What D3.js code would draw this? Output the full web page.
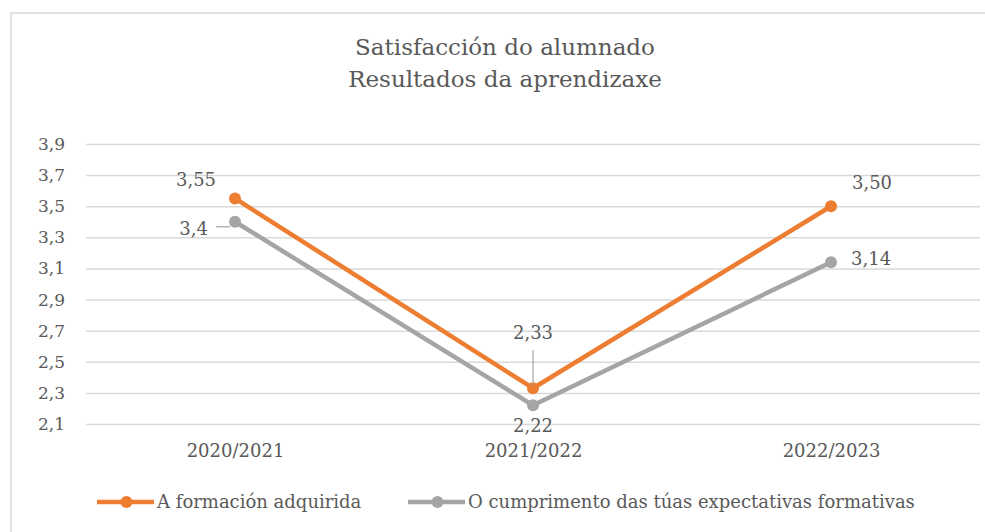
<!DOCTYPE html>
<html>
<head>
<meta charset="utf-8">
<script src="https://cdn.jsdelivr.net/npm/d3@7"></script>
<style>
  body { margin: 0; background: #fff; }
  svg text { font-family: "DejaVu Serif", "Liberation Serif", serif; fill: #595959; }
</style>
</head>
<body>
<svg width="985" height="532" font-family="DejaVu Serif"></svg>
<script>
const categories = ['2020/2021', '2021/2022', '2022/2023'];
const seriesNames = ['A formación adquirida', 'O cumprimento das túas expectativas formativas'];
const formacion = [3.55, 2.33, 3.50];
const expectativas = [3.40, 2.22, 3.14];
const labelTexts = [['3,55', '2,33', '3,50'], ['3,4', '2,22', '3,14']];
const yTicks = [2.1, 2.3, 2.5, 2.7, 2.9, 3.1, 3.3, 3.5, 3.7, 3.9];
const titleLines = ['Satisfacción do alumnado', 'Resultados da aprendizaxe'];

const colors = ['#ED7D31', '#A5A5A5'];
const series = [formacion, expectativas];
const fontFamily = '"DejaVu Serif", "Liberation Serif", serif';

const svg = d3.select('svg');
const margin = { top: 144, right: 5, bottom: 108, left: 86 };
const width = +svg.attr('width');
const height = +svg.attr('height');
const innerWidth = width - margin.left - margin.right;
const innerHeight = height - margin.top - margin.bottom;

// chart frame
svg.append('path')
  .attr('d', `M11,${height} V13 H${width}`)
  .attr('fill', 'none')
  .attr('stroke', '#d9d9d9')
  .attr('stroke-width', 1.5);

// title
svg.append('text')
  .attr('x', 505).attr('y', 55)
  .attr('text-anchor', 'middle')
  .style('font-family', fontFamily)
  .style('font-size', '23px')
  .selectAll('tspan')
  .data(titleLines)
  .join('tspan')
  .attr('x', 505)
  .attr('dy', (d, i) => i === 0 ? 0 : 32)
  .text(d => d);

const x = d3.scalePoint()
  .domain(categories)
  .range([0, innerWidth])
  .padding(0.5);

const y = d3.scaleLinear()
  .domain([2.1, 3.9])
  .range([innerHeight, 0]);

const g = svg.append('g')
  .attr('transform', `translate(${margin.left},${margin.top})`);

// gridlines + y labels
const yAxis = d3.axisLeft(y)
  .tickValues(yTicks)
  .tickSize(-innerWidth)
  .tickPadding(21)
  .tickFormat(d => d3.format('.1f')(d).replace('.', ','));

const yg = g.append('g').call(yAxis);
yg.attr('font-family', null);
yg.select('.domain').remove();
yg.selectAll('line').attr('stroke', '#d9d9d9').attr('stroke-width', 1.5);
yg.selectAll('text')
  .style('font-family', fontFamily)
  .style('font-size', '17px')
  .attr('fill', '#595959');

// x labels
const xAxis = d3.axisBottom(x).tickSize(0).tickPadding(20);
const xg = g.append('g')
  .attr('transform', `translate(0,${innerHeight})`)
  .call(xAxis);
xg.attr('font-family', null);
xg.select('.domain').remove();
xg.selectAll('text')
  .style('font-family', fontFamily)
  .style('font-size', '18px')
  .attr('fill', '#595959');

// lines and markers
const line = d3.line()
  .x((d, i) => x(categories[i]))
  .y(d => y(d));

series.forEach((s, k) => {
  g.append('path')
    .datum(s)
    .attr('d', line)
    .attr('fill', 'none')
    .attr('stroke', colors[k])
    .attr('stroke-width', 4.5)
    .attr('stroke-linejoin', 'round');
});
series.forEach((s, k) => {
  g.selectAll('.pt' + k)
    .data(s)
    .join('circle')
    .attr('cx', (d, i) => x(categories[i]))
    .attr('cy', d => y(d))
    .attr('r', 6)
    .attr('fill', colors[k]);
});

// data labels: offsets relative to point [dx, dy, anchor]
const placement = [
  [[-39, -12, 'middle'], [0, -49, 'middle'], [41, -17, 'middle']],
  [[-27, 13, 'end'], [0, 27, 'middle'], [20, 3, 'start']]
];
series.forEach((s, k) => {
  s.forEach((d, i) => {
    const px = x(categories[i]), py = y(d);
    const p = placement[k][i];
    g.append('text')
      .attr('x', px + p[0])
      .attr('y', py + p[1])
      .attr('text-anchor', p[2])
      .style('font-family', fontFamily)
      .style('font-size', '18px')
      .text(labelTexts[k][i]);
  });
});

// leader lines
g.append('line')
  .attr('x1', x(categories[0]) - 19).attr('x2', x(categories[0]) - 5)
  .attr('y1', y(expectativas[0]) + 5).attr('y2', y(expectativas[0]) + 5)
  .attr('stroke', '#a6a6a6').attr('stroke-width', 1.2);
g.append('line')
  .attr('x1', x(categories[1])).attr('x2', x(categories[1]))
  .attr('y1', y(formacion[1]) - 38).attr('y2', y(formacion[1]) - 3)
  .attr('stroke', '#a6a6a6').attr('stroke-width', 1.2);

// legend
const legendX = [97, 408];
const lg = svg.append('g').attr('transform', 'translate(0,502)');
seriesNames.forEach((name, k) => {
  const item = lg.append('g').attr('transform', `translate(${legendX[k]},0)`);
  item.append('line')
    .attr('x1', 0).attr('x2', 57)
    .attr('stroke', colors[k]).attr('stroke-width', 4.5);
  item.append('circle')
    .attr('cx', 29.5).attr('r', 6)
    .attr('fill', colors[k]);
  item.append('text')
    .attr('x', 60).attr('y', 6)
    .style('font-family', fontFamily)
    .style('font-size', '18px')
    .text(name);
});
</script>
</body>
</html>
